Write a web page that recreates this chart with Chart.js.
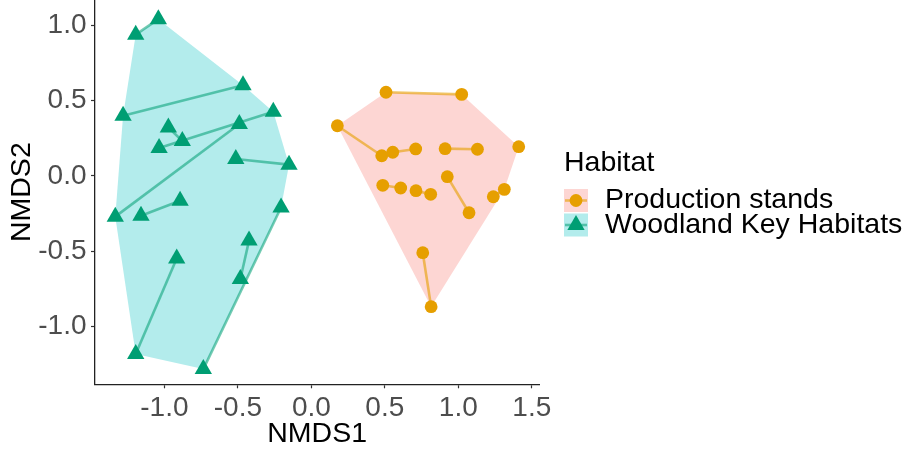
<!DOCTYPE html>
<html>
<head>
<meta charset="utf-8">
<script src="https://cdn.jsdelivr.net/npm/chart.js@4/dist/chart.umd.min.js"></script>
<style>
  html, body { margin: 0; padding: 0; background: #ffffff; }
  #wrap { width: 909px; height: 449px; position: relative; }
</style>
</head>
<body>
<div id="wrap"><canvas id="c"></canvas></div>
<script>
// NMDS site scores per habitat
const wkhX  = [-1.041, -1.195, -0.465, -1.281, -0.259, -0.490, -0.973, -0.878, -1.036, -0.514,
               -0.152, -1.334, -1.159, -0.893, -0.206, -0.424, -0.916, -0.483, -1.195, -0.735];
const wkhY  = [ 1.039,  0.936,  0.601,  0.399,  0.425,  0.343,  0.321,  0.231,  0.184,  0.111,
                0.074, -0.271, -0.265, -0.165, -0.210, -0.430, -0.548, -0.685, -1.182, -1.282];
const prodX = [0.508, 1.023, 0.177, 0.479, 0.554, 0.710, 0.910, 1.130, 1.411, 0.486,
               0.608, 0.712, 0.812, 0.925, 1.073, 1.238, 1.313, 0.758, 0.815];
const prodY = [0.554, 0.540, 0.332, 0.133, 0.156, 0.178, 0.180, 0.176, 0.193, -0.063,
               -0.081, -0.099, -0.123, -0.006, -0.245, -0.139, -0.090, -0.510, -0.868];

// sites joined by a path (indices into the score arrays)
const wkhPairs  = [[0, 1], [2, 3], [4, 8], [6, 7], [5, 11], [9, 10], [12, 13], [15, 17], [14, 19], [16, 18]];
const prodPairs = [[0, 1], [2, 3], [4, 5], [6, 7], [9, 10], [11, 12], [13, 14], [15, 16], [17, 18]];

const xTicks = [-1.0, -0.5, 0.0, 0.5, 1.0, 1.5];
const yTicks = [-1.0, -0.5, 0.0, 0.5, 1.0];
const habitats = ['Production stands', 'Woodland Key Habitats'];
const legendTitle = 'Habitat';

const FONT = "'Liberation Sans', Arial, Helvetica, sans-serif";
const style = {
  prod: { point: '#E69F00', line: 'rgba(230,159,0,0.6)', hull: '#FDD6D3', shape: 'circle', r: 6.4 },
  wkh:  { point: '#009E73', line: 'rgba(0,158,115,0.55)', hull: '#B3ECEC', shape: 'triangle', r: 10 }
};

function toPoints(xs, ys) { return xs.map((x, i) => ({ x: x, y: ys[i] })); }

// convex hull (monotone chain)
function hull(pts) {
  const p = pts.slice().sort((a, b) => a.x - b.x || a.y - b.y);
  const cross = (o, a, b) => (a.x - o.x) * (b.y - o.y) - (a.y - o.y) * (b.x - o.x);
  const lower = [], upper = [];
  for (const q of p) {
    while (lower.length >= 2 && cross(lower[lower.length - 2], lower[lower.length - 1], q) <= 0) lower.pop();
    lower.push(q);
  }
  for (let i = p.length - 1; i >= 0; i--) {
    const q = p[i];
    while (upper.length >= 2 && cross(upper[upper.length - 2], upper[upper.length - 1], q) <= 0) upper.pop();
    upper.push(q);
  }
  upper.pop(); lower.pop();
  const h = lower.concat(upper);
  h.push(h[0]);
  return h;
}

const prodPts = toPoints(prodX, prodY);
const wkhPts = toPoints(wkhX, wkhY);

const datasets = [];
// hulls
[[prodPts, style.prod], [wkhPts, style.wkh]].forEach(([pts, s]) => {
  datasets.push({
    data: hull(pts), showLine: true, fill: 'shape', backgroundColor: s.hull,
    borderWidth: 0, borderColor: 'rgba(0,0,0,0)', pointRadius: 0, tension: 0, order: 3
  });
});
// paths between paired sites
[[prodPts, prodPairs, style.prod], [wkhPts, wkhPairs, style.wkh]].forEach(([pts, pairs, s]) => {
  pairs.forEach(([a, b]) => {
    datasets.push({
      data: [pts[a], pts[b]], showLine: true, fill: false, borderColor: s.line,
      borderWidth: 2.6, pointRadius: 0, tension: 0, order: 2
    });
  });
});
// site points
[[prodPts, style.prod], [wkhPts, style.wkh]].forEach(([pts, s]) => {
  datasets.push({
    data: pts, showLine: false, pointStyle: s.shape, pointRadius: s.r,
    backgroundColor: s.point, borderColor: s.point, borderWidth: 0, order: 1
  });
});

// legend drawn to the right of the panel
const legendPlugin = {
  id: 'habitatLegend',
  afterDraw(chart) {
    const ctx = chart.ctx;
    ctx.save();
    ctx.fillStyle = '#000000';
    ctx.font = '28.5px ' + FONT;
    ctx.textAlign = 'left';
    ctx.textBaseline = 'middle';
    ctx.fillText(legendTitle, 564, 163.5);
    const keys = [style.prod, style.wkh];
    const boxX = 564, boxW = 24, boxH = 23;
    const boxY = [189, 213.5];
    keys.forEach((s, i) => {
      const y0 = boxY[i], cx = boxX + boxW / 2, cy = y0 + boxH / 2;
      ctx.fillStyle = s.hull;
      ctx.fillRect(boxX, y0, boxW, boxH);
      ctx.strokeStyle = s.line;
      ctx.lineWidth = 2.6;
      ctx.beginPath(); ctx.moveTo(boxX + 1, cy); ctx.lineTo(boxX + boxW - 1, cy); ctx.stroke();
      ctx.fillStyle = s.point;
      ctx.beginPath();
      if (s.shape === 'circle') {
        ctx.arc(cx, cy, s.r, 0, Math.PI * 2);
      } else {
        const r = s.r;
        ctx.moveTo(cx, cy - r);
        ctx.lineTo(cx + r * Math.sin(2 * Math.PI / 3), cy - r * Math.cos(2 * Math.PI / 3));
        ctx.lineTo(cx + r * Math.sin(4 * Math.PI / 3), cy - r * Math.cos(4 * Math.PI / 3));
        ctx.closePath();
      }
      ctx.fill();
      ctx.fillStyle = '#000000';
      ctx.font = '28.5px ' + FONT;
      ctx.fillText(habitats[i], 605, cy);
    });
    ctx.restore();
  }
};

const tickFont = { family: FONT, size: 28 };
const titleFont = { family: FONT, size: 28.5, lineHeight: 1 };

new Chart(document.getElementById('c'), {
  type: 'scatter',
  data: { datasets: datasets },
  options: {
    responsive: true,
    maintainAspectRatio: false,
    devicePixelRatio: 1,
    animation: false,
    events: [],
    layout: { autoPadding: false, padding: { left: 0, top: 0, right: 369.7, bottom: 0 } },
    plugins: { legend: { display: false }, tooltip: { enabled: false } },
    scales: {
      x: {
        type: 'linear', min: -1.472, max: 1.551, offset: false,
        afterBuildTicks: (s) => { s.ticks = xTicks.map(v => ({ value: v })); },
        afterFit: (s) => { s.height = 64.7; s.paddingLeft = 0; s.paddingRight = 0; },
        grid: { display: true, drawOnChartArea: false, drawTicks: true, tickLength: 4, tickColor: '#333333', tickWidth: 1.2 },
        border: { display: true, color: '#222222', width: 1.3 },
        ticks: { font: tickFont, color: '#4D4D4D', padding: 3, maxRotation: 0, autoSkip: false,
                 callback: (v) => Number(v).toFixed(1) },
        title: { display: true, text: 'NMDS1', color: '#000000', font: titleFont, padding: { top: 0, bottom: 0.75 } }
      },
      y: {
        type: 'linear', min: -1.383, max: 1.166, offset: false,
        afterBuildTicks: (s) => { s.ticks = yTicks.map(v => ({ value: v })); },
        afterFit: (s) => { s.width = 95; s.paddingTop = 0; s.paddingBottom = 0; },
        grid: { display: true, drawOnChartArea: false, drawTicks: true, tickLength: 4, tickColor: '#333333', tickWidth: 1.2 },
        border: { display: true, color: '#222222', width: 1.3 },
        ticks: { font: tickFont, color: '#4D4D4D', padding: 4.5, autoSkip: false,
                 callback: (v) => Number(v).toFixed(1) },
        title: { display: true, text: 'NMDS2', color: '#000000', font: titleFont, padding: { top: 7.5, bottom: 0 } }
      }
    }
  },
  plugins: [legendPlugin]
});
</script>
</body>
</html>
